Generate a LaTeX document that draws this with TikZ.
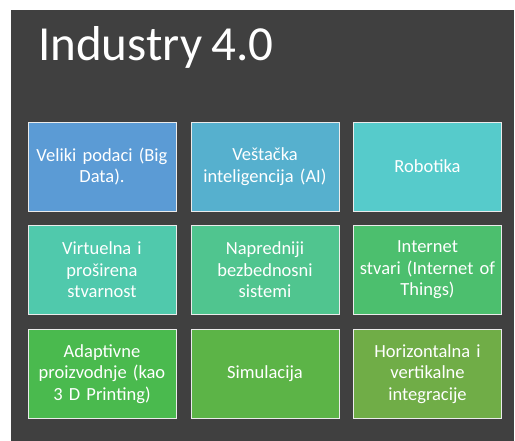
\documentclass[tikz,border=0pt]{standalone}
\usepackage{fontspec}
\setmainfont[WordSpace=0.85]{Carlito}
\definecolor{slide}{HTML}{404040}
\definecolor{ta}{HTML}{5B9BD5}
\definecolor{tb}{HTML}{56B0CE}
\definecolor{tc}{HTML}{56CBCB}
\definecolor{td}{HTML}{50C9AC}
\definecolor{te}{HTML}{50C58F}
\definecolor{tf}{HTML}{4CBF6E}
\definecolor{tg}{HTML}{4ABA4E}
\definecolor{th}{HTML}{5CB447}
\definecolor{ti}{HTML}{70AD47}
\tikzstyle{tile}=[draw=white!92!black,line width=0.9pt,minimum width=148pt,minimum height=89pt,inner sep=0pt,text width=144pt,align=center,text=white,font=\fontsize{18.5}{21.5}\selectfont]

\begin{document}
\begin{tikzpicture}[x=1pt,y=-1pt]
    \useasboundingbox (0,0) rectangle (515,441);
    \fill[slide] (11,10) rectangle (514,441);
    \node[anchor=base west,text=white,inner sep=0pt,font=\fontsize{49}{55}\selectfont] (title) at (38,61) {Industry 4.0};

    \node[tile,fill=ta] (t1) at (102,166.5) {Veliki podaci (Big\\Data).};
    \node[tile,fill=tb] (t2) at (265,166.5) {Veštačka\\inteligencija (AI)};
    \node[tile,fill=tc] (t3) at (427.5,166.5) {Robotika};
    \node[tile,fill=td] (t4) at (102,270) {Virtuelna i\\proširena\\stvarnost};
    \node[tile,fill=te] (t5) at (265,270) {Napredniji\\bezbednosni\\sistemi};
    \node[tile,fill=tf] (t6) at (427.5,270) {Internet\\stvari (Internet of\\Things)};
    \node[tile,fill=tg] (t7) at (102,374) {Adaptivne\\proizvodnje (kao\\3 D Printing)};
    \node[tile,fill=th] (t8) at (265,374) {Simulacija};
    \node[tile,fill=ti] (t9) at (427.5,374) {Horizontalna i\\vertikalne\\integracije};
\end{tikzpicture}
\end{document}
